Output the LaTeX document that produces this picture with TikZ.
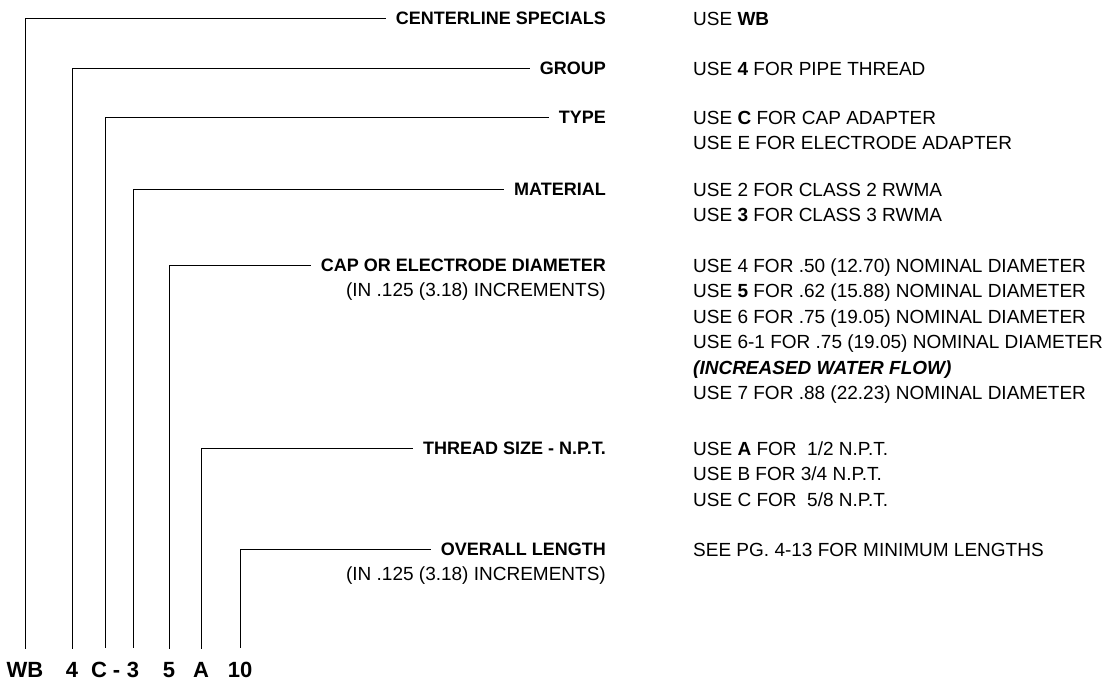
\documentclass[tikz,border=0pt]{standalone}
\usepackage{fontspec}
\setmainfont{Liberation Sans}
\usetikzlibrary{positioning}

\begin{document}
\begin{tikzpicture}[
    x=1pt, y=-1pt,
    title/.style={anchor=base east, inner sep=0pt, font=\fontsize{18}{25.5}\selectfont\bfseries},
    note/.style={anchor=base east, inner sep=0pt, font=\fontsize{19}{25.5}\selectfont},
    usage/.style={anchor=north west, inner sep=0pt, align=left, font=\fontsize{19}{25.5}\selectfont},
    code/.style={anchor=base, inner sep=0pt, font=\fontsize{22}{26}\selectfont\bfseries},
    leader/.style={line width=1pt, shorten <=10pt, shorten >=13pt}
]
\useasboundingbox (0,0) rectangle (1110,680);
% part number
\node[code] (wb) at (25,677) {WB};
\node[code] (g4) at (72,677) {4};
\node[code] (tc) at (99,677) {C};
\node[code] (dash) at (116.5,677) {-};
\node[code] (m3) at (133,677) {3};
\node[code] (d5) at (169,677) {5};
\node[code] (ta) at (201,677) {A};
\node[code] (l10) at (240,677) {10};
% field names
\node[title] (cs) at (606,24.5) {CENTERLINE SPECIALS};
\node[title] (grp) at (606,74.5) {GROUP};
\node[title] (typ) at (606,123.5) {TYPE};
\node[title] (mat) at (606,195.5) {MATERIAL};
\node[title] (dia) at (606,271.5) {CAP OR ELECTRODE DIAMETER};
\node[note] (diainc) at (606,296.8) {(IN .125 (3.18) INCREMENTS)};
\node[title] (thr) at (606,454.5) {THREAD SIZE - N.P.T.};
\node[title] (len) at (606,555.5) {OVERALL LENGTH};
\node[note] (leninc) at (606,580.8) {(IN .125 (3.18) INCREMENTS)};
% usage (top of first line strut)
\node[usage] (csuse) at (693,6.95) {\strut USE \textbf{WB}};
\node[usage] (grpuse) at (693,56.95) {\strut USE \textbf{4} FOR PIPE THREAD};
\node[usage] (typuse) at (693,105.95) {\strut USE \textbf{C} FOR CAP ADAPTER\\USE E FOR ELECTRODE ADAPTER};
\node[usage] (matuse) at (693,177.95) {\strut USE 2 FOR CLASS 2 RWMA\\USE \textbf{3} FOR CLASS 3 RWMA};
\node[usage] (diause) at (693,253.95) {\strut USE 4 FOR .50 (12.70) NOMINAL DIAMETER\\
    USE \textbf{5} FOR .62 (15.88) NOMINAL DIAMETER\\
    USE 6 FOR .75 (19.05) NOMINAL DIAMETER\\
    USE 6-1 FOR .75 (19.05) NOMINAL DIAMETER\\
    \textbf{\textit{(INCREASED WATER FLOW)}}\\
    USE 7 FOR .88 (22.23) NOMINAL DIAMETER};
\node[usage] (thruse) at (693,436.95) {\strut USE \textbf{A} FOR\ \ 1/2 N.P.T.\\USE B FOR 3/4 N.P.T.\\USE C FOR\ \ 5/8 N.P.T.};
\node[usage] (lenuse) at (693,537.95) {\strut SEE PG. 4-13 FOR MINIMUM LENGTHS};
% leaders
\draw[leader] (cs.west) -| (wb.north);
\draw[leader] (grp.west) -| (g4.north);
\draw[leader] (typ.west) -| ([xshift=6pt]tc.north);
\draw[leader] (mat.west) -| (m3.north);
\draw[leader] (dia.west) -| (d5.north);
\draw[leader] (thr.west) -| (ta.north);
\draw[leader] (len.west) -| (l10.north);
\end{tikzpicture}
\end{document}
